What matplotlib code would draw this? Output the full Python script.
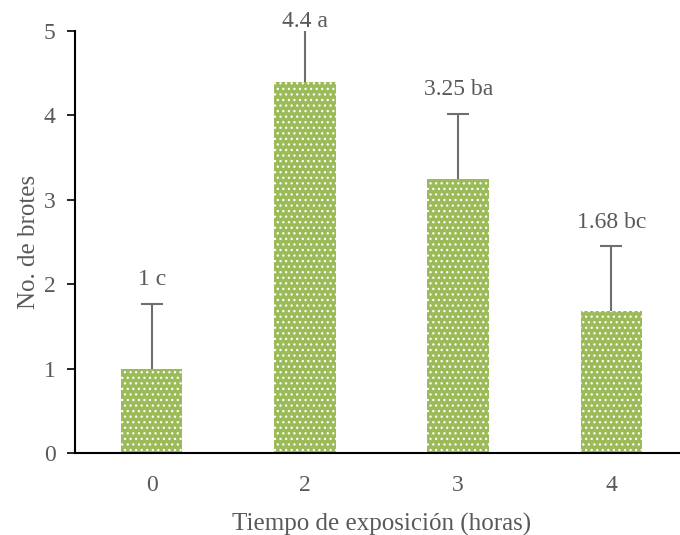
import numpy as np
import matplotlib.pyplot as plt

plt.rcParams["font.family"] = ["Liberation Serif", "DejaVu Serif"]
plt.rcParams["hatch.linewidth"] = 0.9
plt.rcParams["hatch.color"] = "white"

horas = ["0", "2", "3", "4"]
brotes = [1.0, 4.4, 3.25, 1.68]
error = [0.77, 0.77, 0.77, 0.77]
letras = ["1 c", "4.4 a", "3.25 ba", "1.68 bc"]

gris = "#595959"

fig = plt.figure(figsize=(6.8, 5.35), dpi=100)
ax = fig.add_axes([75 / 680, 82 / 535, 613 / 680, 422 / 535])

x = np.arange(len(horas))
ax.bar(x, brotes, width=0.4, color="#9BBB59", edgecolor="white",
       linewidth=0, hatch="...", zorder=2)
eb = ax.errorbar(x, brotes, yerr=[np.zeros(len(x)), error], fmt="none",
                 ecolor="#6f6f6f", elinewidth=1.5, capsize=8, capthick=1.5,
                 zorder=3)
# solo la barra de error superior: se oculta la tapa inferior
eb.lines[1][0].set_visible(False)

# etiquetas sobre las barras de error
tope = np.minimum(np.array(brotes) + np.array(error) + 0.22, 5.05)
for xi, yi, t in zip(x, tope, letras):
    ax.text(xi, yi, t, ha="center", va="baseline", fontsize=17,
            color=gris, clip_on=False)

ax.set_xlim(-0.5, 3.5)
ax.set_ylim(0, 5)
ax.set_xticks(x)
ax.set_xticklabels(horas)
ax.set_yticks(range(6))
ax.tick_params(axis="x", length=0, pad=16, labelsize=17, labelcolor=gris)
ax.tick_params(axis="y", length=6, width=1.2, pad=8, labelsize=17, labelcolor=gris)

for s in ["top", "right"]:
    ax.spines[s].set_visible(False)
for s in ["left", "bottom"]:
    ax.spines[s].set_linewidth(1.5)

ax.set_xlabel("Tiempo de exposición (horas)", fontsize=18, color=gris, labelpad=12)
ax.set_ylabel("No. de brotes", fontsize=18, color=gris, labelpad=3)

plt.savefig("out.png", dpi=100)
